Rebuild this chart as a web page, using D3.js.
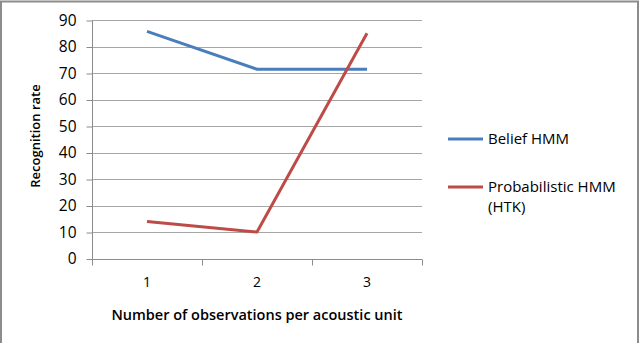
<!DOCTYPE html>
<html>
<head>
<meta charset="utf-8">
<script src="https://cdn.jsdelivr.net/npm/d3@7"></script>
<style>
  body { margin: 0; background: #fff; }
  text { font-family: "Open Sans", "Liberation Sans", sans-serif; fill: #000; }
</style>
</head>
<body>
<svg id="chart"></svg>
<script>
// Data
const categories = ["1", "2", "3"];
const beliefHMM = [85.7, 71.4, 71.4];
const probabilisticHMM = [14, 10, 85];
const yTicks = [0, 10, 20, 30, 40, 50, 60, 70, 80, 90];
const seriesNames = ["Belief HMM", "Probabilistic HMM (HTK)"];

// Dimensions
const svg_width = 640;
const svg_height = 343;
const plot = { left: 92, right: 422, top: 20, bottom: 258.5 };

const svg = d3.select("#chart")
    .attr("width", svg_width)
    .attr("height", svg_height);

// Outer frame
svg.append("rect")
    .attr("x", 1).attr("y", 1.5)
    .attr("width", 637).attr("height", 345)
    .attr("fill", "none")
    .attr("stroke", "#8c8c8c")
    .attr("stroke-width", 2);

// Scales
const xScale = d3.scaleBand()
    .domain(categories)
    .range([plot.left, plot.right]);

const yScale = d3.scaleLinear()
    .domain([0, 90])
    .range([plot.bottom, plot.top]);

// Gridlines
svg.append("g")
    .selectAll("line")
    .data(yTicks.slice(1))
    .enter()
    .append("line")
    .attr("x1", plot.left)
    .attr("x2", plot.right)
    .attr("y1", d => Math.round(yScale(d)) + 0.5)
    .attr("y2", d => Math.round(yScale(d)) + 0.5)
    .attr("stroke", "#a6a6a6")
    .attr("stroke-width", 1);

// Y axis
const yAxis = d3.axisLeft(yScale)
    .tickValues(yTicks)
    .tickSize(6)
    .tickPadding(10);

const yG = svg.append("g")
    .attr("transform", `translate(${plot.left + 0.5}, 0.5)`)
    .call(yAxis);
yG.select(".domain").attr("stroke", "#8c8c8c").attr("d", `M0,${plot.top}V${plot.bottom + 6}`);
yG.selectAll(".tick line").attr("stroke", "#8c8c8c");
yG.selectAll("text")
    .style("font-size", "15.5px")
    .attr("fill", "#222");

// X axis
const xAxis = d3.axisBottom(xScale)
    .tickSize(0)
    .tickPadding(18);

const xG = svg.append("g")
    .attr("transform", `translate(0, ${Math.round(plot.bottom) + 0.5})`)
    .call(xAxis);
xG.select(".domain").attr("stroke", "#8c8c8c").attr("d", `M${plot.left},0H${plot.right}`);
xG.selectAll("text")
    .style("font-size", "14px")
    .attr("fill", "#222");

// Category boundary ticks
const boundaries = [plot.left, ...categories.map(c => xScale(c) + xScale.bandwidth())];
xG.selectAll(".bound")
    .data(boundaries)
    .enter()
    .append("line")
    .attr("class", "bound")
    .attr("x1", d => Math.round(d) + 0.5)
    .attr("x2", d => Math.round(d) + 0.5)
    .attr("y1", 0)
    .attr("y2", 6)
    .attr("stroke", "#8c8c8c");

// Lines
const line = d3.line()
    .x((d, i) => xScale(categories[i]) + xScale.bandwidth() / 2)
    .y(d => yScale(d));

svg.append("path")
    .datum(beliefHMM)
    .attr("d", line)
    .attr("fill", "none")
    .attr("stroke", "#4a7ebb")
    .attr("stroke-width", 3)
    .attr("stroke-linejoin", "round");

svg.append("path")
    .datum(probabilisticHMM)
    .attr("d", line)
    .attr("fill", "none")
    .attr("stroke", "#be4b48")
    .attr("stroke-width", 3)
    .attr("stroke-linejoin", "round");

// Axis titles
svg.append("text")
    .attr("x", (plot.left + plot.right) / 2)
    .attr("y", 320)
    .attr("text-anchor", "middle")
    .style("font-size", "14.5px")
    .style("font-weight", "600")
    .text("Number of observations per acoustic unit");

svg.append("text")
    .attr("transform", `translate(40, 136) rotate(-90)`)
    .attr("text-anchor", "middle")
    .style("font-size", "13px")
    .style("font-weight", "600")
    .text("Recognition rate");

// Legend
const legendColors = ["#4a7ebb", "#be4b48"];
const legendY = [139, 187];
const legend = svg.append("g");
legend.selectAll("line")
    .data(seriesNames)
    .enter()
    .append("line")
    .attr("x1", 448).attr("x2", 483)
    .attr("y1", (d, i) => legendY[i])
    .attr("y2", (d, i) => legendY[i])
    .attr("stroke", (d, i) => legendColors[i])
    .attr("stroke-width", 3);

legend.append("text")
    .attr("x", 488).attr("y", legendY[0] + 5)
    .style("font-size", "15px")
    .text("Belief HMM");

legend.append("text")
    .attr("x", 488).attr("y", legendY[1] + 5)
    .style("font-size", "15px")
    .text("Probabilistic HMM");

legend.append("text")
    .attr("x", 488).attr("y", legendY[1] + 25)
    .style("font-size", "15px")
    .text("(HTK)");
</script>
</body>
</html>
